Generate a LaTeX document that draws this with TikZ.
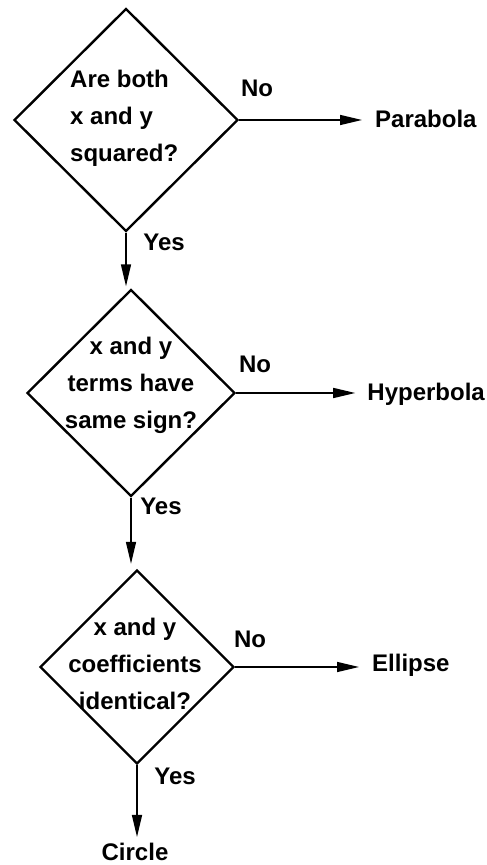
\documentclass[tikz,border=0pt]{standalone}
\usepackage{fontspec}
\setmainfont{Liberation Sans}
\usetikzlibrary{shapes.geometric, arrows.meta}

\tikzset{
  decision/.style={draw, shape=diamond, line width=2.4pt, inner sep=0pt, aspect=1},
  question/.style={align=center, inner sep=0pt},
  answer/.style={inner sep=0pt, text height=17pt, text depth=1pt},
  branch/.style={inner sep=0pt},
  flow/.style={line width=1.5pt, -{Triangle[length=22pt, width=10pt]}},
}

\begin{document}
\begin{tikzpicture}[x=1pt, y=1pt, font=\fontsize{24}{37}\selectfont\bfseries]
  \useasboundingbox (0, 0) rectangle (487, 865);

  % the three tests, top to bottom
  \node[decision, minimum width=224pt, minimum height=223pt] (d1) at (126, 745) {};
  \node[decision, minimum width=208pt, minimum height=207pt] (d2) at (131, 472) {};
  \node[decision, minimum width=194pt, minimum height=194pt] (d3) at (137, 198) {};

  \node[question, align=left, anchor=west] (q1) at (70, 747) {Are both\\x and y\\squared?};
  \node[question] (q2) at (131, 480) {x and y\\terms have\\same sign?};
  \node[question] (q3) at (135, 201) {x and y\\coefficients\\identical?};

  % outcomes
  \node[answer, anchor=west] (parabola) at (375, 745) {Parabola};
  \node[answer, anchor=east] (hyperbola) at (485, 472) {Hyperbola};
  \node[answer, anchor=west] (ellipse) at (372, 201) {Ellipse};
  \node[answer, anchor=north] (circle) at (135, 22) {Circle};

  % "No" goes right, "Yes" goes down
  \draw[flow, shorten >=13pt] (d1.east) -- (d1.east -| parabola.west);
  \draw[flow, shorten >=12pt] (d2.east) -- (d2.east -| hyperbola.west);
  \draw[flow, shorten >=13pt] (d3.east) -- (d3.east -| ellipse.west);
  \draw[flow, shorten >=2pt] (d1.south) -- (d1.south |- d2.north);
  \draw[flow, shorten >=5pt] (d2.south) -- (d2.south |- d3.north);
  \draw[flow, shorten >=6pt] (d3.south) -- (d3.south |- circle.north);

  \node[branch] (no1) at (257, 777) {No};
  \node[branch] (yes1) at (164, 623) {Yes};
  \node[branch] (no2) at (255, 501) {No};
  \node[branch] (yes2) at (161, 359) {Yes};
  \node[branch] (no3) at (250, 226) {No};
  \node[branch] (yes3) at (175, 89) {Yes};
\end{tikzpicture}
\end{document}
